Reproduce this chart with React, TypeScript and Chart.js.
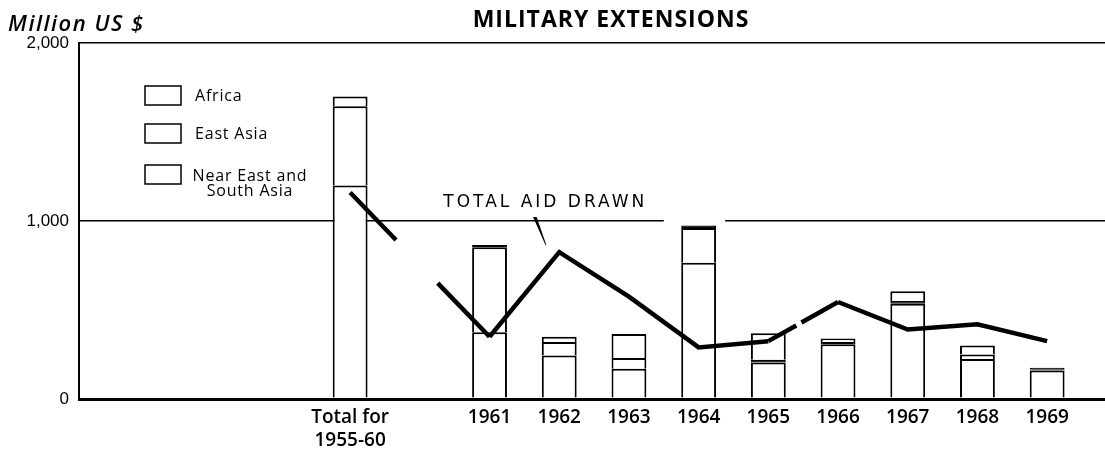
import React, { useEffect, useRef } from "react";
import { Chart, registerables } from "chart.js";

Chart.register(...registerables);

// ---- data ----
const X_VALUES = [1959, 1961, 1962, 1963, 1964, 1965, 1966, 1967, 1968, 1969];
const X_LABELS: (string | string[])[] = [
  ["Total for", "1955-60"],
  "1961",
  "1962",
  "1963",
  "1964",
  "1965",
  "1966",
  "1967",
  "1968",
  "1969",
];
const NEAR_EAST_SOUTH_ASIA = [1200, 375, 245, 170, 765, 205, 308, 535, 225, 160];
const EAST_ASIA = [445, 478, 75, 60, 195, 15, 12, 15, 25, 5];
const AFRICA = [55, 12, 30, 135, 15, 150, 20, 55, 50, 10];
const TOTAL_AID_DRAWN = [1160, 350, 825, 575, 290, 325, 545, 390, 420, 325];
const Y_TICKS = [0, 1000, 2000];

const TITLE = "MILITARY EXTENSIONS";
const UNIT_LABEL = "Million US $";
const LINE_LABEL = "TOTAL AID DRAWN";
const LEGEND_LABELS = ["Africa", "East Asia", "Near East and\nSouth Asia"];

// axis range (data units)
const X_MIN = 1955.11;
const X_MAX = 1969.83;
const Y_MIN = 0;
const Y_MAX = 2000;

// segments thinner than this print as a solid band
const THIN_SEGMENT = 16;

const BLACK = "#000000";
const WHITE = "#ffffff";

const decorPlugin = {
  id: "decor",
  beforeDatasetsDraw(chart: any) {
    const { ctx, scales } = chart;
    const x = scales.x;
    const y = scales.y;
    // small break in the 1,000 rule around the 1964 column
    const x0 = x.getPixelForValue(1963.5);
    const x1 = x.getPixelForValue(1964.38);
    const yy = y.getPixelForValue(1000);
    ctx.save();
    ctx.fillStyle = WHITE;
    ctx.fillRect(x0, yy - 2.5, x1 - x0, 5);
    ctx.restore();
  },
  afterDraw(chart: any) {
    const { ctx, chartArea, scales } = chart;
    const x = scales.x;
    const y = scales.y;
    ctx.save();
    ctx.fillStyle = BLACK;
    ctx.strokeStyle = BLACK;

    // title
    ctx.font = "bold 23px 'Open Sans'";
    (ctx as any).letterSpacing = "1px";
    ctx.textAlign = "center";
    ctx.textBaseline = "middle";
    ctx.fillText(TITLE, 611, 20);

    // unit label
    ctx.font = "italic 600 22px 'Open Sans'";
    (ctx as any).letterSpacing = "1.5px";
    ctx.textAlign = "left";
    ctx.fillText(UNIT_LABEL, 8, 25);

    // legend
    const bx = chartArea.left + 66;
    const boxTops = [86, 124, 165];
    ctx.font = "16px 'Open Sans'";
    (ctx as any).letterSpacing = "0.8px";
    LEGEND_LABELS.forEach((lab, i) => {
      const top = boxTops[i];
      ctx.fillStyle = WHITE;
      ctx.fillRect(bx, top, 36, 19);
      ctx.lineWidth = 1.5;
      ctx.strokeRect(bx, top, 36, 19);
      ctx.fillStyle = BLACK;
      const lines = lab.split("\n");
      if (lines.length === 1) {
        ctx.textAlign = "left";
        ctx.fillText(lines[0], bx + 50, top + 10);
      } else {
        ctx.textAlign = "center";
        ctx.fillText(lines[0], bx + 105, top + 11);
        ctx.fillText(lines[1], bx + 105, top + 26);
      }
    });

    // line label + pointer
    ctx.font = "17px 'DejaVu Sans'";
    (ctx as any).letterSpacing = "3px";
    ctx.textAlign = "center";
    ctx.textBaseline = "alphabetic";
    ctx.fillText(LINE_LABEL, x.getPixelForValue(1961.8), y.getPixelForValue(1080));
    const px1 = x.getPixelForValue(1961.65);
    const py1 = y.getPixelForValue(1022);
    const px2 = x.getPixelForValue(1961.81);
    const py2 = y.getPixelForValue(864);
    ctx.beginPath();
    ctx.moveTo(px1 - 1.8, py1);
    ctx.lineTo(px1 + 1.8, py1);
    ctx.lineTo(px2 + 0.4, py2);
    ctx.lineTo(px2 - 0.4, py2);
    ctx.closePath();
    ctx.fill();
    ctx.restore();
  },
};

export default function App() {
  const canvasRef = useRef<HTMLCanvasElement | null>(null);

  useEffect(() => {
    const canvas = canvasRef.current;
    if (!canvas) return;

    const toXY = (arr: number[]) => arr.map((v, i) => ({ x: X_VALUES[i], y: v }));

    const barCommon = {
      type: "bar" as const,
      backgroundColor: (c: any) => {
        const v = c.raw && typeof c.raw.y === "number" ? c.raw.y : 100;
        return v < THIN_SEGMENT ? BLACK : WHITE;
      },
      borderColor: BLACK,
      borderWidth: 2,
      categoryPercentage: 1,
      barPercentage: 0.5,
      stack: "bars",
      order: 1,
    };

    const chart = new Chart(canvas, {
      type: "bar",
      data: {
        datasets: [
          {
            ...barCommon,
            label: "Near East and South Asia",
            data: toXY(NEAR_EAST_SOUTH_ASIA),
          },
          { ...barCommon, label: "East Asia", data: toXY(EAST_ASIA) },
          { ...barCommon, label: "Africa", data: toXY(AFRICA) },
          {
            type: "line" as const,
            label: "Total aid drawn",
            data: toXY(TOTAL_AID_DRAWN),
            borderColor: BLACK,
            borderWidth: 4.5,
            pointRadius: 0,
            tension: 0,
            fill: false,
            borderCapStyle: "butt",
            borderJoinStyle: "miter",
            stack: "line",
            order: 0,
            segment: {
              borderDash: (c: any) =>
                c.p0DataIndex === 0 ? [66, 60, 600] : c.p0DataIndex === 5 ? [32, 6, 600] : undefined,
            },
          } as any,
        ],
      },
      options: {
        responsive: false,
        animation: false,
        layout: { padding: { top: 43, right: 0, left: 0, bottom: 0 } },
        plugins: {
          legend: { display: false },
          tooltip: { enabled: false },
          title: { display: false },
        },
        scales: {
          x: {
            type: "linear",
            min: X_MIN,
            max: X_MAX,
            stacked: true,
            offset: false,
            grid: { display: false, drawTicks: false },
            border: { display: false },
            afterBuildTicks: (s: any) => {
              s.ticks = X_VALUES.map((v) => ({ value: v }));
            },
            afterFit: (s: any) => {
              s.height = 52;
            },
            ticks: {
              autoSkip: false,
              maxRotation: 0,
              padding: 7,
              color: BLACK,
              font: { family: "'Open Sans'", size: 19, weight: 600 as any },
              callback: (v: any) => {
                const i = X_VALUES.indexOf(Number(v));
                return i >= 0 ? X_LABELS[i] : "";
              },
            },
          },
          y: {
            min: Y_MIN,
            max: Y_MAX,
            stacked: true,
            afterBuildTicks: (s: any) => {
              s.ticks = Y_TICKS.map((v) => ({ value: v }));
            },
            afterFit: (s: any) => {
              s.width = 79;
            },
            grid: {
              color: BLACK,
              lineWidth: (c: any) => (c.tick && c.tick.value === 0 ? 3 : 1.5),
              drawTicks: false,
            },
            border: { display: true, color: BLACK, width: 2 },
            ticks: {
              padding: 10,
              color: BLACK,
              font: { family: "'Liberation Sans'", size: 17 },
              callback: (v: any) => Number(v).toLocaleString("en-US"),
            },
          },
        },
      } as any,
      plugins: [decorPlugin],
    });

    return () => chart.destroy();
  }, []);

  return (
    <div style={{ position: "absolute", left: 0, top: 0, width: 1105, height: 451, background: "#fff" }}>
      <canvas ref={canvasRef} width={1105} height={451} style={{ width: 1105, height: 451, display: "block" }} />
    </div>
  );
}
